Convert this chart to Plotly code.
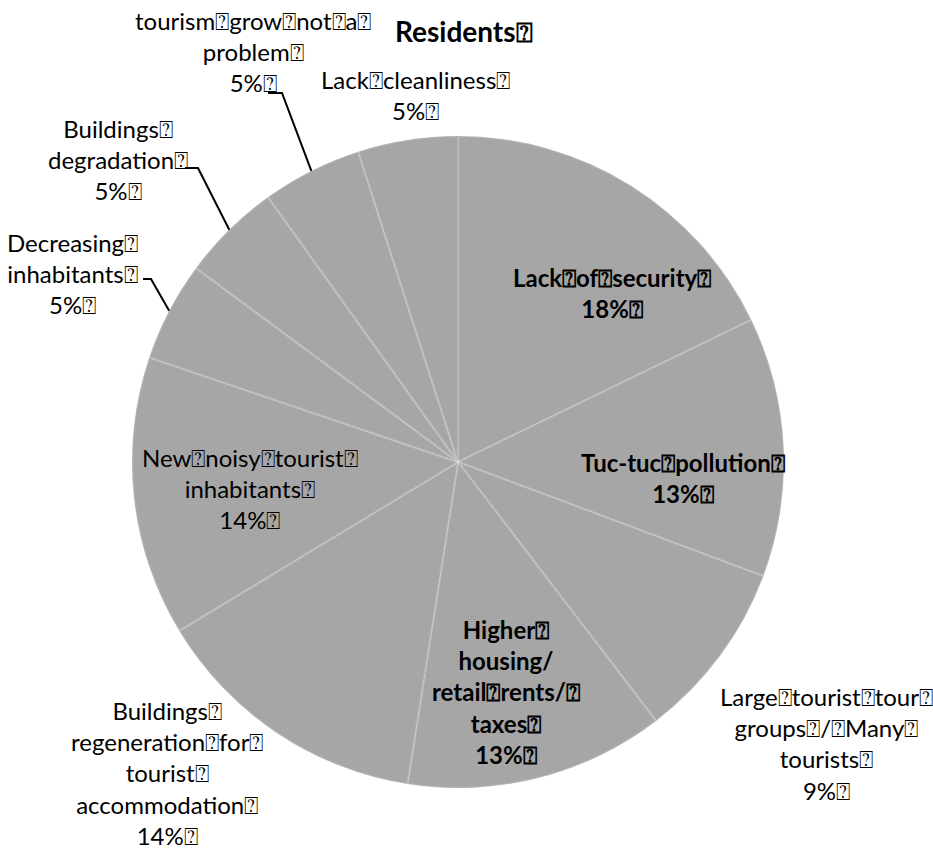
import math
import plotly.graph_objects as go

# ---- data -------------------------------------------------------------
categories = [
    "Lack of security",
    "Tuc-tuc pollution",
    "Large tourist tour groups / Many tourists",
    "Higher housing/ retail rents/ taxes",
    "Buildings regeneration for tourist accommodation",
    "New noisy tourist inhabitants",
    "Decreasing inhabitants",
    "Buildings degradation",
    "tourism grow not a problem",
    "Lack cleanliness",
]
shares = [18, 13, 9, 13, 14, 14, 5, 5, 5, 5]

# label text as it is broken over lines
label_lines = [
    ["Lack⍰of⍰security⍰"],
    ["Tuc-tuc⍰pollution⍰"],
    ["Large⍰tourist⍰tour⍰", "groups⍰/⍰Many⍰", "tourists⍰"],
    ["Higher⍰", "housing/", "retail⍰rents/⍰", "taxes⍰"],
    ["Buildings⍰", "regeneration⍰for⍰", "tourist⍰", "accommodation⍰"],
    ["New⍰noisy⍰tourist⍰", "inhabitants⍰"],
    ["Decreasing⍰", "inhabitants⍰"],
    ["Buildings⍰", "degradation⍰"],
    ["tourism⍰grow⍰not⍰a⍰", "problem⍰"],
    ["Lack⍰cleanliness⍰"],
]
title_text = "Residents⍰"

# ---- layout ------------------------------------------------------------
W, H = 933, 854
CX, CY, R = 458, 462, 326          # pie centre and radius (px)
FONT = "Lato, Carlito, Calibri, sans-serif"
LABEL_SIZE = 24
PIE_GREY = "#a6a6a6"

# label block centres (px) and weight
label_pos = [(612, 293), (683, 478), (826, 743), (506, 692), (167, 773),
             (250, 488), (72, 273), (118, 159), (253, 52), (415, 95)]
label_bold = [True, True, False, True, False, False, False, False, False, False]
# leader lines for outside labels: index -> (stub start x, elbow x, y)
leaders = {6: (143, 151, 279), 7: (185, 198, 168), 8: (268, 282, 93)}


def px(x):
    return x / W


def py(y):
    return 1 - y / H


fig = go.Figure(go.Pie(
    labels=categories,
    values=shares,
    sort=False,
    direction="clockwise",
    rotation=0,
    textinfo="none",
    hoverinfo="label+percent",
    showlegend=False,
    marker=dict(colors=[PIE_GREY] * len(shares),
                line=dict(color="rgba(255,255,255,0.14)", width=2.5)),
    domain=dict(x=[px(CX - R), px(CX + R)], y=[py(CY + R), py(CY - R)]),
))

annotations = []
for i, (lines, v) in enumerate(zip(label_lines, shares)):
    parts = lines + [f"{v}%⍰"]
    if label_bold[i]:
        parts = [f"<b>{p}</b>" for p in parts]
    x, y = label_pos[i]
    annotations.append(dict(
        x=px(x), y=py(y), xref="paper", yref="paper",
        text="<br>".join(parts), showarrow=False,
        xanchor="center", yanchor="middle", align="center",
        font=dict(family=FONT, size=LABEL_SIZE, color="#000000"),
    ))

annotations.append(dict(
    x=px(464), y=py(31), xref="paper", yref="paper",
    text=f"<b>{title_text}</b>", showarrow=False,
    xanchor="center", yanchor="middle",
    font=dict(family=FONT, size=28, color="#000000"),
))

# leader lines run from each slice's mid-angle on the rim to its label
total = sum(shares)
shapes = []
cum = 0
for i, v in enumerate(shares):
    mid = math.radians((cum + v / 2) / total * 360)
    cum += v
    if i not in leaders:
        continue
    ex = CX + R * math.sin(mid)
    ey = CY - R * math.cos(mid)
    sx, kx, ky = leaders[i]
    shapes.append(dict(
        type="path", xref="paper", yref="paper",
        path=f"M {px(sx)},{py(ky)} L {px(kx)},{py(ky)} L {px(ex)},{py(ey)}",
        line=dict(color="#000000", width=2),
    ))

fig.update_layout(
    width=W, height=H,
    margin=dict(l=0, r=0, t=0, b=0),
    paper_bgcolor="white", plot_bgcolor="white",
    annotations=annotations, shapes=shapes,
    showlegend=False,
)

fig.write_html("out.html")
